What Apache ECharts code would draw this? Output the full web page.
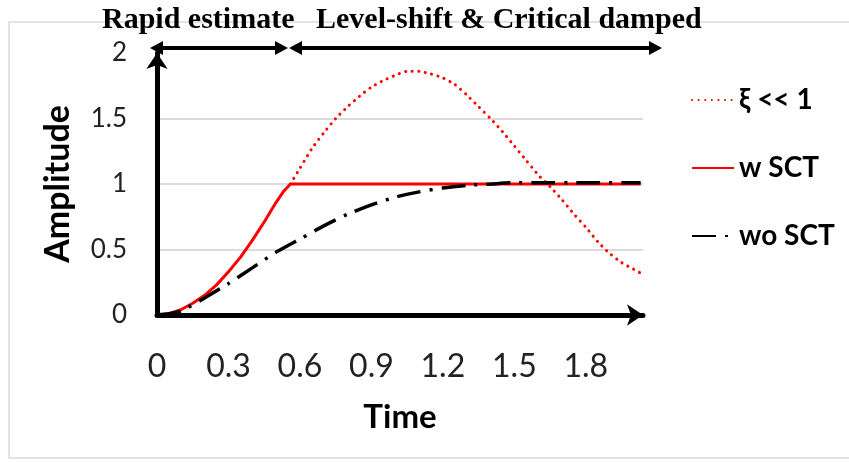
<!DOCTYPE html>
<html>
<head>
<meta charset="utf-8">
<script src="https://cdn.jsdelivr.net/npm/echarts@6/dist/echarts.min.js"></script>
<style>
  html, body { margin: 0; padding: 0; background: #fff; }
  #chart { width: 849px; height: 462px; }
</style>
</head>
<body>
<div id="chart"></div>
<script>
  // values: [time, amplitude]
  var xTicks = [0, 0.3, 0.6, 0.9, 1.2, 1.5, 1.8];
  var yTicks = [0, 0.5, 1, 1.5, 2];
  var legendNames = ['ξ << 1', 'w SCT', 'wo SCT'];

  var underDamped = [
    [0.56, 1.0], [0.6, 1.12], [0.65, 1.27], [0.7, 1.39], [0.75, 1.5], [0.8, 1.59],
    [0.85, 1.67], [0.9, 1.74], [0.95, 1.79], [1.0, 1.83], [1.05, 1.86], [1.1, 1.86],
    [1.15, 1.84], [1.2, 1.81], [1.25, 1.76], [1.3, 1.68], [1.35, 1.59], [1.4, 1.5],
    [1.45, 1.4], [1.5, 1.29], [1.55, 1.18], [1.6, 1.07], [1.65, 0.98], [1.7, 0.88],
    [1.75, 0.77], [1.8, 0.67], [1.85, 0.56], [1.9, 0.47], [1.95, 0.4], [2.0, 0.35], [2.03, 0.32]
  ];
  var withSct = [
    [0, 0], [0.05, 0.01], [0.1, 0.04], [0.15, 0.09], [0.2, 0.15], [0.25, 0.23],
    [0.3, 0.33], [0.35, 0.44], [0.4, 0.57], [0.45, 0.71], [0.5, 0.86], [0.53, 0.94],
    [0.56, 1.0], [2.03, 1.0]
  ];
  var withoutSct = [
    [0, 0], [0.05, 0.01], [0.1, 0.03], [0.2, 0.13], [0.3, 0.24], [0.4, 0.36], [0.5, 0.48],
    [0.6, 0.58], [0.7, 0.68], [0.8, 0.77], [0.9, 0.84], [1.0, 0.9], [1.1, 0.94], [1.2, 0.97],
    [1.3, 0.99], [1.4, 1.0], [1.5, 1.01], [1.6, 1.01], [1.8, 1.01], [2.03, 1.01]
  ];

  var myChart = echarts.init(document.getElementById('chart'));

  // double headed arrow for the phase annotations above the plot
  function doubleArrow(x1, x2, y) {
    return {
      type: 'group',
      children: [
        { type: 'line', shape: { x1: x1 + 8, y1: y, x2: x2 - 8, y2: y }, style: { stroke: '#000', lineWidth: 4 } },
        { type: 'polygon', shape: { points: [[x1, y], [x1 + 13, y - 7], [x1 + 13, y + 7]] }, style: { fill: '#000' } },
        { type: 'polygon', shape: { points: [[x2, y], [x2 - 13, y - 7], [x2 - 13, y + 7]] }, style: { fill: '#000' } }
      ]
    };
  }

  var option = {
    animation: false,
    backgroundColor: '#fff',
    grid: {
      left: 157,
      right: 206,
      top: 53,
      bottom: 147
    },
    legend: {
      orient: 'vertical',
      left: 686,
      top: 81,
      itemWidth: 42,
      itemHeight: 14,
      itemGap: 40,
      data: legendNames,
      // line only, no marker dot in the key
      itemStyle: { color: 'rgba(0,0,0,0)', borderWidth: 0 },
      textStyle: {
        fontFamily: 'Lato, "Noto Sans", sans-serif',
        fontWeight: 'bold',
        fontSize: 28,
        color: '#000'
      }
    },
    xAxis: {
      type: 'value',
      min: 0,
      max: 2.04,
      interval: 0.3,
      name: 'Time',
      nameLocation: 'middle',
      nameGap: 86,
      nameTextStyle: {
        fontFamily: 'Lato, sans-serif',
        fontWeight: 'bold',
        fontSize: 33,
        color: '#000'
      },
      axisLine: {
        onZero: false,
        symbol: ['none', 'arrow'],
        symbolSize: [16, 16],
        lineStyle: { color: '#000', width: 5 }
      },
      axisTick: { show: false },
      splitLine: { show: false },
      axisLabel: {
        margin: 36,
        showMaxLabel: false,
        fontFamily: 'Lato, sans-serif',
        fontSize: 32,
        color: '#222',
        formatter: function (v) {
          return xTicks.indexOf(Math.round(v * 10) / 10) >= 0 ? String(Math.round(v * 10) / 10) : '';
        }
      }
    },
    yAxis: {
      type: 'value',
      min: 0,
      max: 2,
      interval: 0.5,
      name: 'Amplitude',
      nameLocation: 'middle',
      nameGap: 82,
      nameTextStyle: {
        fontFamily: 'Lato, sans-serif',
        fontWeight: 'bold',
        fontSize: 34,
        color: '#000'
      },
      axisLine: {
        show: true,
        symbol: ['none', 'arrow'],
        symbolSize: [16, 16],
        lineStyle: { color: '#000', width: 5 }
      },
      axisTick: { show: false },
      splitLine: {
        show: true,
        lineStyle: {
          color: ['#dcdcdc', '#dcdcdc', '#dcdcdc', '#dcdcdc', 'rgba(0,0,0,0)'],
          width: 2
        }
      },
      axisLabel: {
        margin: 30,
        fontFamily: 'Lato, sans-serif',
        fontSize: 26,
        color: '#222',
        formatter: function (v) {
          return yTicks.indexOf(v) >= 0 ? String(v) : '';
        }
      }
    },
    series: [
      {
        name: legendNames[0],
        type: 'line',
        data: underDamped,
        symbol: 'none',
        smooth: 0.2,
        lineStyle: { color: '#ff0000', width: 3, type: [0.1, 6.5], cap: 'round' },
        itemStyle: { color: '#ff0000' }
      },
      {
        name: legendNames[1],
        type: 'line',
        data: withSct,
        symbol: 'none',
        lineStyle: { color: '#ff0000', width: 3 },
        itemStyle: { color: '#ff0000' }
      },
      {
        name: legendNames[2],
        type: 'line',
        data: withoutSct,
        symbol: 'none',
        smooth: 0.2,
        lineStyle: { color: '#000', width: 3.5, type: [24, 9, 3, 9] },
        itemStyle: { color: '#000' }
      }
    ],
    graphic: [
      {
        type: 'rect',
        z: -1,
        shape: { x: 9, y: 22, width: 850, height: 436 },
        style: { fill: 'none', stroke: '#d9d9d9', lineWidth: 1.5 }
      },
      doubleArrow(150, 288, 48),
      doubleArrow(289, 662, 48),
      {
        type: 'text',
        x: 102,
        y: 5,
        style: {
          text: 'Rapid estimate',
          font: 'bold 30px "Liberation Serif", serif',
          fill: '#000'
        }
      },
      {
        type: 'text',
        x: 316,
        y: 5,
        style: {
          text: 'Level-shift & Critical damped',
          font: 'bold 30px "Liberation Serif", serif',
          fill: '#000'
        }
      }
    ]
  };

  myChart.setOption(option);
</script>
</body>
</html>
